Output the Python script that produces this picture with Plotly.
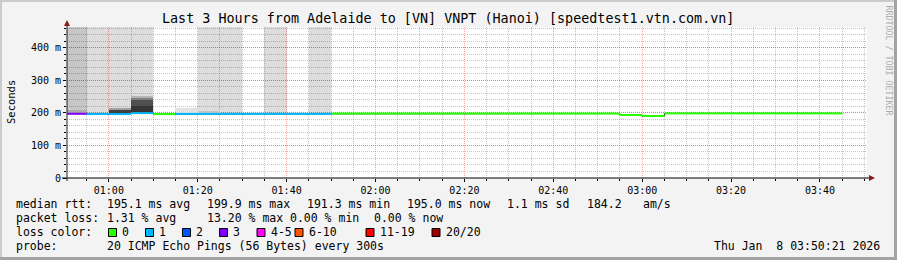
import pandas as pd
import plotly.graph_objects as go

# ---------------- data ----------------
DAY = "2026-01-08"
bin_end = ["00:55", "01:00", "01:05", "01:10", "01:15", "01:20", "01:25", "01:30",
           "01:35", "01:40", "01:45", "01:50", "01:55", "02:00", "02:05", "02:10",
           "02:15", "02:20", "02:25", "02:30", "02:35", "02:40", "02:45", "02:50",
           "02:55", "03:00", "03:05", "03:10", "03:15", "03:20", "03:25", "03:30",
           "03:35", "03:40", "03:45"]
median_ms = [197.5, 196.5, 196.5, 199.5, 196.5, 197.0, 197.0, 197.0,
             197.0, 197.0, 197.0, 197.0, 198.0, 198.0, 198.0, 198.0,
             198.0, 198.0, 198.0, 198.0, 198.0, 198.0, 198.0, 198.0,
             198.0, 193.5, 190.5, 198.5, 198.5, 198.5, 198.5, 198.5,
             198.5, 198.5, 198.5]
# index into loss colour table
loss_class = [3, 1, 1, 1, 0, 1, 1, 1, 1, 1, 1, 1, 0, 0, 0, 0, 0, 0, 0, 0, 0, 0, 0, 0,
              0, 0, 0, 0, 0, 0, 0, 0, 0, 0, 0]
# lost-ping grey column: 0 none, 1 light, 2 dark
lost_gray = [2, 1, 1, 1, 0, 0, 1, 1, 0, 1, 0, 1, 0, 0, 0, 0, 0, 0, 0, 0, 0, 0, 0, 0,
             0, 0, 0, 0, 0, 0, 0, 0, 0, 0, 0]
lost_gray_base = 197.0

# smoke bands (bin index, low ms, high ms, shade)
smoke_bin = [0, 2, 2, 3, 3, 3, 3, 5, 6]
smoke_lo = [198, 198, 210, 199, 222, 242, 246, 198, 199]
smoke_hi = [208, 210, 215, 222, 242, 246, 249, 214, 205]
smoke_shade = ["#acacac", "#404040", "#a0a0a0", "#363636", "#505050", "#808080",
               "#b4b4b4", "#e2e2e2", "#c4c4c4"]

loss_labels = ["0", "1", "2", "3", "4-5", "6-10", "11-19", "20/20"]
loss_colors = ["#26ff00", "#00b8ff", "#0059ff", "#7e00ff", "#ff00ff", "#ff5500",
               "#ff0000", "#a10000"]

y_tick_vals = [0, 100, 200, 300, 400]
y_tick_text = ["0", "100 m", "200 m", "300 m", "400 m"]
Y_TOP = 464

title = "Last 3 Hours from Adelaide to [VN] VNPT (Hanoi) [speedtest1.vtn.com.vn]"
rtt_items = ["195.1 ms avg", "199.9 ms max", "191.3 ms min", "195.0 ms now",
             "1.1 ms sd", "184.2", "am/s"]
loss_items = ["1.31 % avg", "13.20 % max", "0.00 % min", "0.00 % now"]
probe_text = "20 ICMP Echo Pings (56 Bytes) every 300s"
date_text = "Thu Jan  8 03:50:21 2026"

# ---------------- layout geometry ----------------
W, H = 897, 260
L, R, T, B = 67, 30, 27, 82
PW, PH = W - L - R, H - T - B
MONO = "DejaVu Sans Mono"


def px(x):
    return (x - L) / PW


def py(y):
    return (H - B - y) / PH


ends = [pd.Timestamp(f"{DAY} {t}") for t in bin_end]
starts = [e - pd.Timedelta(minutes=5) for e in ends]
centers = [e - pd.Timedelta(seconds=150) for e in ends]
fmt = "%Y-%m-%d %H:%M:%S"

fig = go.Figure()

# lost-ping grey columns
gray_alpha = {1: "rgba(0,0,0,0.135)", 2: "rgba(0,0,0,0.22)"}
gx, gb, gy, gc = [], [], [], []
for i, g in enumerate(lost_gray):
    if g:
        gx.append(centers[i].strftime(fmt))
        gb.append(lost_gray_base)
        gy.append(Y_TOP - lost_gray_base)
        gc.append(gray_alpha[g])
fig.add_trace(go.Bar(x=gx, y=gy, base=gb, width=[300000] * len(gx),
                     marker=dict(color=gc, line=dict(width=0)), showlegend=False,
                     hoverinfo="skip"))

# smoke
fig.add_trace(go.Bar(x=[centers[b].strftime(fmt) for b in smoke_bin],
                     y=[h - l for l, h in zip(smoke_lo, smoke_hi)], base=smoke_lo,
                     width=[300000] * len(smoke_bin),
                     marker=dict(color=smoke_shade, line=dict(width=0)),
                     showlegend=False, hoverinfo="skip"))

# thin dark step line under the median
sx, sy = [], []
for s, e, v in zip(starts, ends, median_ms):
    sx += [s.strftime(fmt), e.strftime(fmt)]
    sy += [v, v]
fig.add_trace(go.Scatter(x=sx, y=sy, mode="lines", line=dict(color="#202020", width=1),
                         showlegend=False, hoverinfo="skip"))

# median coloured by loss
for c in sorted(set(loss_class)):
    lx, ly = [], []
    for s, e, v, k in zip(starts, ends, median_ms, loss_class):
        if k == c:
            lx += [s.strftime(fmt), e.strftime(fmt), None]
            ly += [v, v, None]
    fig.add_trace(go.Scatter(x=lx, y=ly, mode="lines",
                             line=dict(color=loss_colors[c], width=2),
                             showlegend=False, hoverinfo="skip", connectgaps=False))

MINOR_GRID = "rgba(140,140,140,0.5)"
MAJOR_GRID = "rgba(255,0,0,0.36)"

fig.update_layout(
    width=W, height=H, autosize=False,
    margin=dict(l=L, r=R, t=T, b=B, pad=0),
    paper_bgcolor="#f3f3f3", plot_bgcolor="#ffffff",
    barmode="overlay", bargap=0, showlegend=False,
    font=dict(family=MONO, color="#000000"),
    xaxis=dict(type="date", range=[f"{DAY} 00:50:35", f"{DAY} 03:50:35"],
               tickformat="%H:%M", tick0=f"{DAY} 01:00", dtick=1200000,
               ticks="outside", ticklen=3, tickcolor="#000000", tickwidth=1,
               tickfont=dict(family=MONO, size=10, color="#000000"),
               showgrid=True, gridcolor=MAJOR_GRID, griddash="1px,1px", gridwidth=1,
               minor=dict(dtick=300000, tick0=f"{DAY} 01:00", ticks="outside", ticklen=2,
                          tickcolor="#000000", showgrid=True, gridcolor=MINOR_GRID,
                          griddash="1px,1px", gridwidth=1),
               zeroline=False, showline=False, fixedrange=True),
    yaxis=dict(range=[0, Y_TOP], tickvals=y_tick_vals, ticktext=y_tick_text,
               ticks="outside", ticklen=3, tickcolor="#000000",
               tickfont=dict(family=MONO, size=10, color="#000000"),
               showgrid=True, gridcolor=MAJOR_GRID, griddash="1px,1px", gridwidth=1,
               minor=dict(dtick=20, ticks="outside", ticklen=2, tickcolor="#000000",
                          showgrid=True, gridcolor=MINOR_GRID, griddash="1px,1px",
                          gridwidth=1),
               zeroline=False, showline=False, fixedrange=True),
)

shapes = []
# frame (3-D shade)
shapes.append(dict(type="rect", xref="paper", yref="paper", x0=px(0), x1=px(W), y0=py(0), y1=py(2),
                   fillcolor="#cbcbcb", line=dict(width=0), layer="below"))
shapes.append(dict(type="rect", xref="paper", yref="paper", x0=px(0), x1=px(2), y0=py(0), y1=py(H),
                   fillcolor="#cbcbcb", line=dict(width=0), layer="below"))
shapes.append(dict(type="rect", xref="paper", yref="paper", x0=px(0), x1=px(W), y0=py(H - 3), y1=py(H),
                   fillcolor="#a3a3a3", line=dict(width=0), layer="below"))
shapes.append(dict(type="rect", xref="paper", yref="paper", x0=px(W - 3), x1=px(W), y0=py(0), y1=py(H),
                   fillcolor="#a3a3a3", line=dict(width=0), layer="below"))
# axes with arrows
shapes.append(dict(type="line", xref="paper", yref="paper", x0=px(62), x1=px(870),
                   y0=0, y1=0, line=dict(color="#000000", width=1)))
shapes.append(dict(type="line", xref="paper", yref="paper", x0=0, x1=0,
                   y0=py(181), y1=py(23), line=dict(color="#202020", width=1)))
shapes.append(dict(type="path", xref="paper", yref="paper",
                   path=f"M {px(64)},{py(26)} L {px(70)},{py(26)} L {px(67)},{py(20)} Z",
                   fillcolor="#8b1a1a", line=dict(width=0)))
shapes.append(dict(type="path", xref="paper", yref="paper",
                   path=f"M {px(869)},{py(175)} L {px(869)},{py(181)} L {px(875)},{py(178)} Z",
                   fillcolor="#8b1a1a", line=dict(width=0)))
# legend squares
sq_x = [108.5, 145.5, 182.5, 219.5, 257, 295, 366, 432]
for xx, col in zip(sq_x, loss_colors):
    shapes.append(dict(type="rect", xref="paper", yref="paper", x0=px(xx), x1=px(xx + 8),
                       y0=py(236.5), y1=py(228.5), fillcolor=col,
                       line=dict(color="#000000", width=1)))
fig.update_layout(shapes=shapes)

annotations = []


def ann(text, x, y, anchor="left", size=11.5, color="#000000", angle=0):
    annotations.append(dict(text=text.replace(" ", "\u00a0"), x=px(x), y=py(y),
                            xref="paper", yref="paper", xanchor=anchor, yanchor="middle",
                            showarrow=False, textangle=angle, borderpad=0, borderwidth=0,
                            font=dict(family=MONO, size=size, color=color)))


ann(title, 448, 19, anchor="center", size=13.4)
ann("Seconds", 11, 102, anchor="center", size=10.5, angle=-90)
ann("RRDTOOL / TOBI OETIKER", 888.5, 60, anchor="center", size=8.3, color="#adadad", angle=90)

ann("median rtt:", 16, 204.3)
for t, xx in zip(rtt_items, [107.3, 207.3, 307.3, 407.3, 507.3, 586.7, 642.7]):
    ann(t, xx, 204.3)
ann("packet loss:", 16, 218.3)
for t, xx in zip(loss_items, [107.3, 207.3, 289.5, 373.5]):
    ann(t, xx, 218.3)
ann("loss color:", 16, 232.3)
for t, xx in zip(loss_labels, sq_x):
    ann(t, xx + 13.5, 232.3)
ann("probe:", 16, 246.3)
ann(probe_text, 107.3, 246.3)
ann(date_text, 880, 246.3, anchor="right")
fig.update_layout(annotations=annotations)

fig.write_html("out.html", config={"displayModeBar": False})
